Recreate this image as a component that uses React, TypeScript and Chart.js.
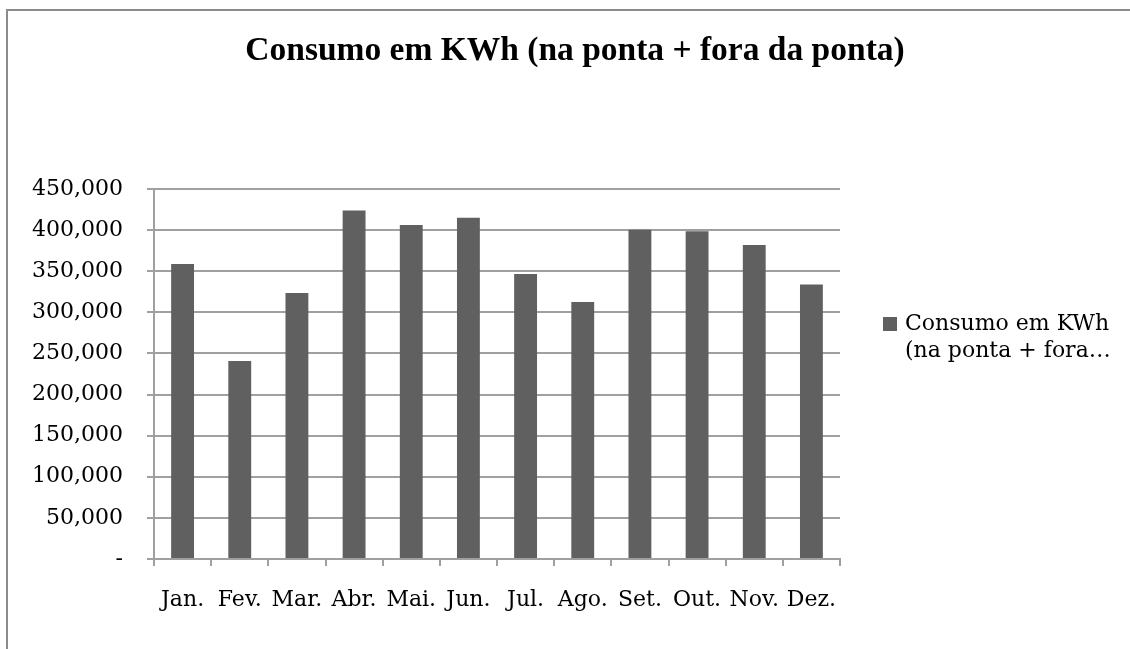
import React, { useEffect, useRef } from "react";
import { Chart, registerables } from "chart.js";

Chart.register(...registerables);

const title = "Consumo em KWh (na ponta + fora da ponta)";
const seriesLabel = "Consumo em KWh (na ponta + fora da ponta)";
const legendLines = ["Consumo em KWh", "(na ponta + fora…"];
const months = ["Jan.", "Fev.", "Mar.", "Abr.", "Mai.", "Jun.", "Jul.", "Ago.", "Set.", "Out.", "Nov.", "Dez."];
const consumo = [358700, 240800, 323500, 424000, 406100, 415000, 346600, 312500, 400400, 398500, 381800, 334000];
const yMax = 450000;
const yStep = 50000;

const AXIS_FONT = "'DejaVu Serif', serif";
const TITLE_FONT = "'Liberation Serif', serif";
const BAR_COLOR = "#606060";
const GRID_COLOR = "#a0a0a0";

const framePlugin = {
  id: "frameAndLegend",
  beforeDraw(chart: any) {
    const ctx = chart.ctx;
    ctx.save();
    ctx.fillStyle = "#ffffff";
    ctx.fillRect(0, 0, chart.width, chart.height);
    ctx.strokeStyle = "#8c8c8c";
    ctx.lineWidth = 2;
    ctx.beginPath();
    ctx.moveTo(7, chart.height + 2);
    ctx.lineTo(7, 10);
    ctx.lineTo(chart.width + 2, 10);
    ctx.stroke();
    ctx.restore();
  },
  afterDraw(chart: any) {
    const ctx = chart.ctx;
    const ds = chart.data.datasets[0];
    ctx.save();
    // title
    ctx.fillStyle = "#000000";
    ctx.font = `bold 33.5px ${TITLE_FONT}`;
    ctx.textAlign = "center";
    ctx.textBaseline = "alphabetic";
    ctx.fillText(title, 575, 60);
    // legend
    ctx.fillStyle = ds.backgroundColor;
    ctx.fillRect(883, 317, 14, 14);
    ctx.fillStyle = "#000000";
    ctx.font = `22px ${AXIS_FONT}`;
    ctx.textBaseline = "middle";
    ctx.textAlign = "left";
    legendLines.forEach((line, i) => {
      ctx.fillText(line, 905, 324 + i * 27);
    });
    ctx.restore();
  },
};

export default function App() {
  const ref = useRef<HTMLCanvasElement>(null);
  useEffect(() => {
    if (!ref.current) return;
    const chart = new Chart(ref.current, {
      type: "bar",
      data: {
        labels: months,
        datasets: [
          {
            label: seriesLabel,
            data: consumo,
            backgroundColor: BAR_COLOR,
            borderWidth: 0,
            categoryPercentage: 0.4,
            barPercentage: 1,
          },
        ],
      },
      options: {
        responsive: false,
        animation: false,
        devicePixelRatio: 1,
        layout: { padding: { left: 0, right: 290, top: 189, bottom: 0 } },
        plugins: {
          legend: { display: false },
          tooltip: { enabled: false },
          title: { display: false },
        },
        scales: {
          x: {
            offset: true,
            grid: {
              display: true,
              drawOnChartArea: false,
              drawTicks: true,
              tickLength: 7,
              color: GRID_COLOR,
              lineWidth: 2,
              offset: true,
            },
            border: { display: true, color: GRID_COLOR, width: 2 },
            ticks: {
              color: "#000000",
              font: { family: AXIS_FONT, size: 22 },
              padding: 21,
              maxRotation: 0,
              autoSkip: false,
            },
            afterFit(scale: any) {
              scale.height = 90;
            },
          },
          y: {
            min: 0,
            max: yMax,
            grid: {
              color: GRID_COLOR,
              lineWidth: 2,
              tickLength: 7,
              drawTicks: true,
            },
            border: { display: true, color: GRID_COLOR, width: 2 },
            ticks: {
              stepSize: yStep,
              color: "#000000",
              font: { family: AXIS_FONT, size: 22 },
              padding: 24,
              callback: (v: any) => (Number(v) === 0 ? "-" : Number(v).toLocaleString("en-US")),
            },
            afterFit(scale: any) {
              scale.width = 154;
            },
          },
        },
      },
      plugins: [framePlugin],
    });
    return () => chart.destroy();
  }, []);
  return (
    <div style={{ position: "absolute", left: 0, top: 0, width: 1130, height: 649 }}>
      <canvas ref={ref} width={1130} height={649} style={{ width: 1130, height: 649, display: "block" }} />
    </div>
  );
}
